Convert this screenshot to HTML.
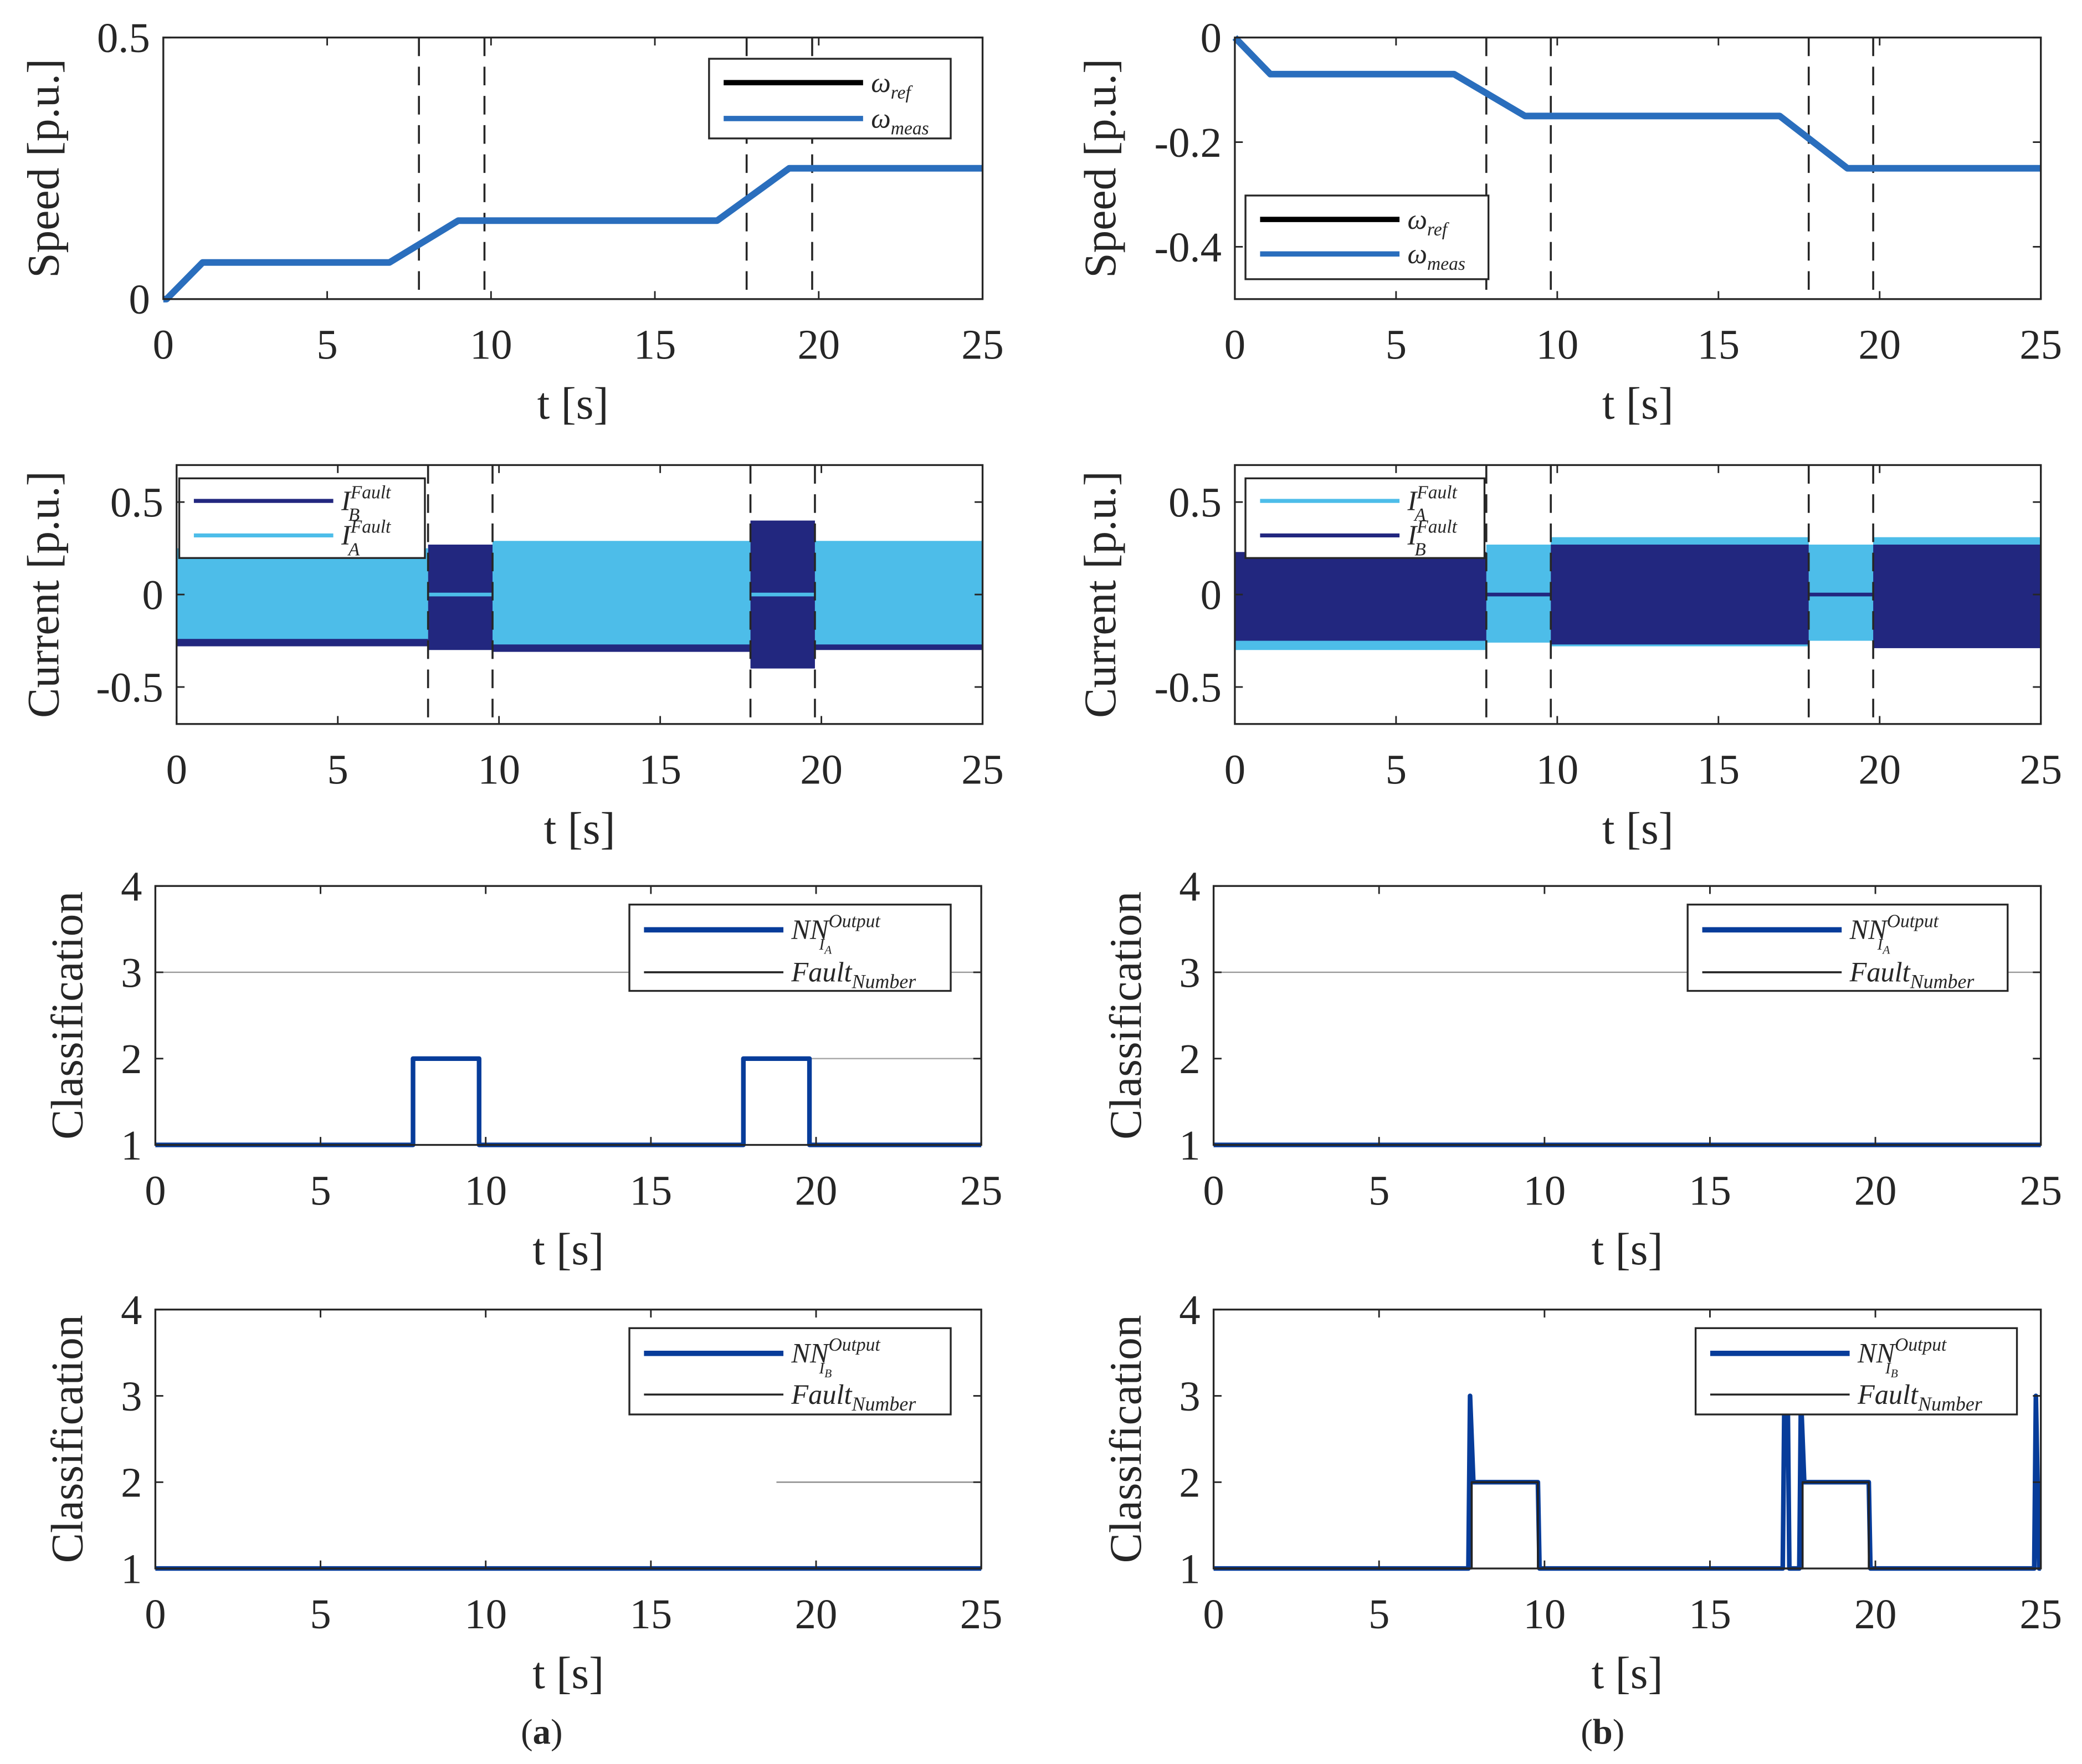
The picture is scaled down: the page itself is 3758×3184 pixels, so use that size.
<!DOCTYPE html>
<html><head><meta charset="utf-8"><style>
html,body{margin:0;padding:0;background:#fff;}
svg{display:block;}
text{font-family:"Liberation Serif",serif;fill:#262626;}
</style></head><body>
<svg id="fig" width="3758" height="3184" viewBox="0 0 1568 1328" xmlns="http://www.w3.org/2000/svg"></svg>
<script>
// ---- data ----
const xTicks = [0,5,10,15,20,25];
const faultLines = [7.8, 9.8, 17.8, 19.8];
const speedAT = [0, 0.1, 1.2, 6.9, 9.0, 16.9, 19.1, 25];
const speedAV = [0, 0, 0.07, 0.07, 0.15, 0.15, 0.25, 0.25];
const speedBT = [0, 1.1, 6.8, 9.0, 16.9, 19.0, 25];
const speedBV = [0, -0.07, -0.07, -0.15, -0.15, -0.25, -0.25];
const curAStart = [0, 7.8, 9.8, 17.8, 19.8];
const curAEnd = [7.8, 9.8, 17.8, 19.8, 25];
const curANavyLo = [-0.28, -0.30, -0.31, -0.40, -0.30];
const curANavyHi = [0.22, 0.27, 0.28, 0.40, 0.28];
const curALightLo = [-0.24, -0.01, -0.27, -0.01, -0.27];
const curALightHi = [0.25, 0.01, 0.29, 0.01, 0.29];
const curBLightLo = [-0.30, -0.26, -0.28, -0.25, -0.28];
const curBLightHi = [0.20, 0.27, 0.31, 0.27, 0.31];
const curBNavyLo = [-0.25, -0.01, -0.27, -0.01, -0.29];
const curBNavyHi = [0.23, 0.01, 0.27, 0.01, 0.27];
const nnA_a_T = [0, 7.8, 7.8, 9.8, 9.8, 17.8, 17.8, 19.8, 19.8, 25];
const nnA_a_V = [1, 1, 2, 2, 1, 1, 2, 2, 1, 1];
const faultT = [0, 7.8, 7.8, 9.8, 9.8, 17.8, 17.8, 19.8, 19.8, 25];
const faultV = [1, 1, 2, 2, 1, 1, 2, 2, 1, 1];
const nnB_b_T = [0, 7.7, 7.75, 7.85, 9.8, 9.85, 17.2, 17.25, 17.35, 17.4, 17.7, 17.75, 17.85, 19.8, 19.85, 24.8, 24.85, 24.95, 25];
const nnB_b_V = [1, 1, 3, 2, 2, 1, 1, 3, 3, 1, 1, 3, 2, 2, 1, 1, 3, 1, 1];
const flatT = [0, 25];
const flatV = [1, 1];

const NS = "http://www.w3.org/2000/svg";
const svg = document.getElementById('fig');
function el(tag, attrs, parent, txt){
  const e = document.createElementNS(NS, tag);
  for (const k in attrs) e.setAttribute(k, attrs[k]);
  if (txt !== undefined) e.textContent = txt;
  (parent||svg).appendChild(e);
  return e;
}
function makeAxes(name, x0, x1, y0, y1, ymin, ymax, yTicks, yLabels, ylabel, ylabX){
  const g = el('g', {});
  
  
  const sx = t => x0 + (t/25)*(x1-x0);
  const sy = v => y1 - (v-ymin)/(ymax-ymin)*(y1-y0);
  el('rect', {x:x0,y:y0,width:x1-x0,height:y1-y0,fill:'#fff'}, g);
  return {g, sx, sy, x0, x1, y0, y1, yTicks, yLabels, ylabel, ylabX};
}
function finishAxes(a){
  const g = a.g;
  const frame = el('rect', {x:a.x0,y:a.y0,width:a.x1-a.x0,height:a.y1-a.y0,fill:'none',stroke:'#262626','stroke-width':1.4}, g);
  
  
  xTicks.forEach(t => {
    const x = a.sx(t);
    el('line', {x1:x,x2:x,y1:a.y1,y2:a.y1-6,stroke:'#262626','stroke-width':1.2}, g);
    el('line', {x1:x,x2:x,y1:a.y0,y2:a.y0+6,stroke:'#262626','stroke-width':1.2}, g);
    const tl = el('text', {x:x,y:a.y1+45,'text-anchor':'middle','font-size':32}, g, String(t));
    
    
  });
  a.yTicks.forEach((v,i) => {
    const y = a.sy(v);
    el('line', {x1:a.x0,x2:a.x0+6,y1:y,y2:y,stroke:'#262626','stroke-width':1.2}, g);
    el('line', {x1:a.x1,x2:a.x1-6,y1:y,y2:y,stroke:'#262626','stroke-width':1.2}, g);
    const tl = el('text', {x:a.x0-10,y:y+11,'text-anchor':'end','font-size':32}, g, a.yLabels[i]);
    
    
  });
  const cx = (a.x0+a.x1)/2;
  const xl = el('text', {x:cx,y:a.y1+90,'text-anchor':'middle','font-size':34}, g, 't [s]');
  
  
  const cy = (a.y0+a.y1)/2;
  const yl = el('text', {x:0,y:0,'text-anchor':'middle','font-size':34,transform:`translate(${a.ylabX},${cy}) rotate(-90)`}, g, a.ylabel);
  
  
}
function poly(a, T, V, color, w, name){
  const pts = T.map((t,i)=>a.sx(t).toFixed(2)+','+a.sy(V[i]).toFixed(2)).join(' ');
  const p = el('polyline', {points:pts,fill:'none',stroke:color,'stroke-width':w,'stroke-linejoin':'round'}, a.g);
  
  
}
function bands(a, S, E, lo, hi, color, name){
  S.forEach((s,i)=>{
    const x = a.sx(s), w = a.sx(E[i])-x;
    const r = el('rect', {x:x,y:a.sy(hi[i]),width:w,height:a.sy(lo[i])-a.sy(hi[i]),fill:color}, a.g);
    
    
  });
}
function dashed(a){
  faultLines.forEach(t=>{
    const l = el('line', {x1:a.sx(t),x2:a.sx(t),y1:a.y0,y2:a.y1,stroke:'#262626','stroke-width':1.5,'stroke-dasharray':'14,8'}, a.g);
    
    
  });
}
function legend(a, x, y, w, h, entries){
  const g = el('g', {}, a.g);
  
  
  el('rect', {x:x,y:y,width:w,height:h,fill:'#fff',stroke:'#262626','stroke-width':1.4}, g);
  entries.forEach(en=>{
    const l = el('line', {x1:x+11,x2:x+116,y1:en.y,y2:en.y,stroke:en.c,'stroke-width':en.w}, g);
    
    
    const t = el('text', {x:x+122,y:en.y+7,'font-size':21,'font-style':'italic'}, g);
    
    
    t.innerHTML = en.html;
  });
}
const BLUE = '#2a6ebd', NAVY = '#22277f', LIGHT = '#4dbde9', NN = '#073c9a';
const wref = 'ω<tspan font-size="14" dy="5">ref</tspan>';
const wmeas = 'ω<tspan font-size="14" dy="5">meas</tspan>';
const iA = 'I<tspan font-size="14" dy="-9">Fault</tspan><tspan font-size="14" dx="-32" dy="17">A</tspan>';
const iB = 'I<tspan font-size="14" dy="-9">Fault</tspan><tspan font-size="14" dx="-32" dy="17">B</tspan>';
const nnA = 'NN<tspan font-size="14" dy="-9">Output</tspan><tspan font-size="12" dx="-46" dy="17">I</tspan><tspan font-size="9" dy="3">A</tspan>';
const nnB = 'NN<tspan font-size="14" dy="-9">Output</tspan><tspan font-size="12" dx="-46" dy="17">I</tspan><tspan font-size="9" dy="3">B</tspan>';
const fnum = 'Fault<tspan font-size="15" dy="5">Number</tspan>';

let a = makeAxes('speed-plot-a', 123, 740, 28, 225, 0, 0.5, [0,0.5], ['0','0.5'], 'Speed [p.u.]', 44);
dashed(a);
poly(a, speedAT, speedAV, BLUE, 5, 'speed-meas-line');
legend(a, 534, 44, 182, 60, [{y:62,c:'#000',w:4,html:wref},{y:89,c:BLUE,w:4,html:wmeas}]);
finishAxes(a);
a = makeAxes('speed-plot-b', 930, 1537, 28, 225, -0.5, 0, [-0.4,-0.2,0], ['-0.4','-0.2','0'], 'Speed [p.u.]', 840);
dashed(a);
poly(a, speedBT, speedBV, BLUE, 5, 'speed-meas-line');
legend(a, 938, 147, 183, 63, [{y:165,c:'#000',w:4,html:wref},{y:191,c:BLUE,w:4,html:wmeas}]);
finishAxes(a);
a = makeAxes('current-plot-a', 133, 740, 350, 545, -0.7, 0.7, [-0.5,0,0.5], ['-0.5','0','0.5'], 'Current [p.u.]', 44);
bands(a, curAStart, curAEnd, curANavyLo, curANavyHi, NAVY, 'current-b-band');
bands(a, curAStart, curAEnd, curALightLo, curALightHi, LIGHT, 'current-a-band');
dashed(a);
legend(a, 135, 360, 185, 60, [{y:377,c:NAVY,w:3,html:iB},{y:403,c:LIGHT,w:3,html:iA}]);
finishAxes(a);
a = makeAxes('current-plot-b', 930, 1537, 350, 545, -0.7, 0.7, [-0.5,0,0.5], ['-0.5','0','0.5'], 'Current [p.u.]', 840);
bands(a, curAStart, curAEnd, curBLightLo, curBLightHi, LIGHT, 'current-a-band');
bands(a, curAStart, curAEnd, curBNavyLo, curBNavyHi, NAVY, 'current-b-band');
dashed(a);
legend(a, 938, 360, 180, 60, [{y:377,c:LIGHT,w:3,html:iA},{y:403,c:NAVY,w:3,html:iB}]);
finishAxes(a);
a = makeAxes('class-ia-plot-a', 117, 739, 667, 862, 1, 4, [1,2,3,4], ['1','2','3','4'], 'Classification', 62);
poly(a, [0,25], [3,3], '#999', 1, 'ref-line-3');
poly(a, [19.8,25], [2,2], '#aaa', 1, 'ref-line-2');
poly(a, faultT, faultV, '#222', 1.5, 'fault-number-line');
poly(a, nnA_a_T, nnA_a_V, NN, 3.5, 'nn-output-line');
legend(a, 474, 681, 242, 65, [{y:700,c:NN,w:4,html:nnA},{y:732,c:'#222',w:1.5,html:fnum}]);
finishAxes(a);
a = makeAxes('class-ia-plot-b', 914, 1537, 667, 862, 1, 4, [1,2,3,4], ['1','2','3','4'], 'Classification', 859);
poly(a, [0,25], [3,3], '#999', 1, 'ref-line-3');
poly(a, flatT, flatV, NN, 3.5, 'nn-output-line');
legend(a, 1271, 681, 241, 65, [{y:700,c:NN,w:4,html:nnA},{y:732,c:'#222',w:1.5,html:fnum}]);
finishAxes(a);
a = makeAxes('class-ib-plot-a', 117, 739, 986, 1181, 1, 4, [1,2,3,4], ['1','2','3','4'], 'Classification', 62);
poly(a, [18.8,25], [2,2], '#888', 1, 'ref-line-2');
poly(a, flatT, flatV, NN, 3.5, 'nn-output-line');
legend(a, 474, 1000, 242, 65, [{y:1019,c:NN,w:4,html:nnB},{y:1050,c:'#222',w:1.5,html:fnum}]);
finishAxes(a);
a = makeAxes('class-ib-plot-b', 914, 1537, 986, 1181, 1, 4, [1,2,3,4], ['1','2','3','4'], 'Classification', 859);
poly(a, nnB_b_T, nnB_b_V, NN, 3.5, 'nn-output-line');
poly(a, faultT, faultV, '#222', 1.5, 'fault-number-line');
legend(a, 1277, 1000, 242, 65, [{y:1019,c:NN,w:4,html:nnB},{y:1050,c:'#222',w:1.5,html:fnum}]);
finishAxes(a);
let c = el('text', {x:408,y:1313,'text-anchor':'middle','font-size':27}, svg);


c.innerHTML = '(<tspan font-weight="bold">a</tspan>)';
c = el('text', {x:1207,y:1313,'text-anchor':'middle','font-size':27}, svg);


c.innerHTML = '(<tspan font-weight="bold">b</tspan>)';
</script>
</body></html>
